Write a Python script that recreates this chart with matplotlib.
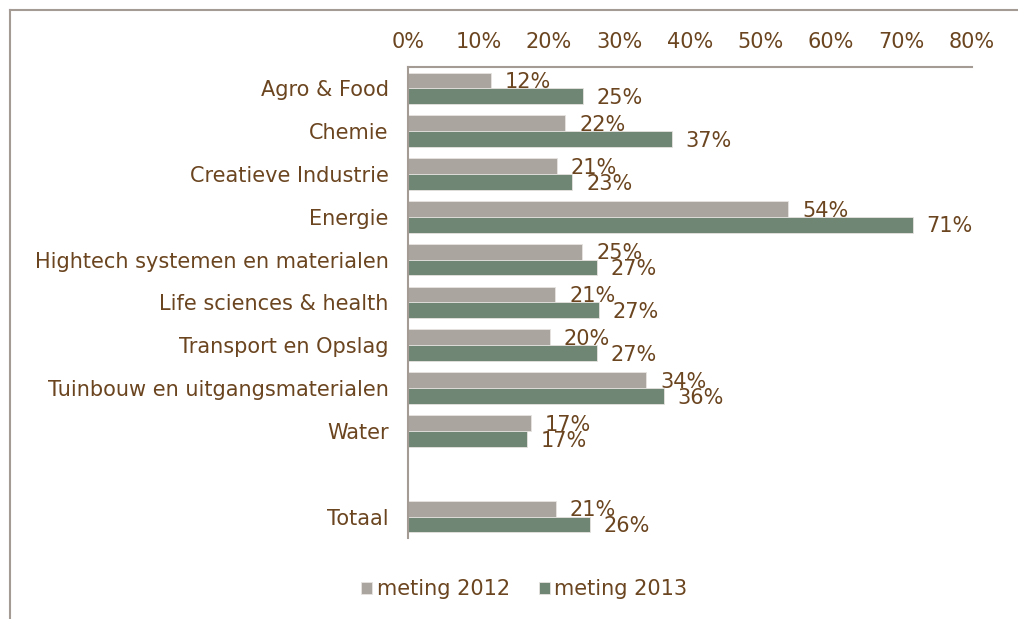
import numpy as np
import matplotlib.pyplot as plt
from matplotlib.lines import Line2D
from matplotlib.ticker import FuncFormatter

categories = ["Agro & Food", "Chemie", "Creatieve Industrie", "Energie",
              "Hightech systemen en materialen", "Life sciences & health",
              "Transport en Opslag", "Tuinbouw en uitgangsmaterialen", "Water",
              "Totaal"]
meting_2012 = [11.8, 22.3, 21.1, 53.9, 24.7, 20.9, 20.1, 33.8, 17.4, 21.0]
meting_2013 = [24.8, 37.4, 23.3, 71.6, 26.8, 27.1, 26.8, 36.3, 16.9, 25.8]
labels_2012 = ["12%", "22%", "21%", "54%", "25%", "21%", "20%", "34%", "17%", "21%"]
labels_2013 = ["25%", "37%", "23%", "71%", "27%", "27%", "27%", "36%", "17%", "26%"]

c2012 = "#ABA59F"
c2013 = "#6F8675"
txt = "#6B4520"
frame = "#A39B94"
fs = 15

# empty slot between Water and Totaal
pos = np.array([0, 1, 2, 3, 4, 5, 6, 7, 8, 10])
h = 0.37

fig = plt.figure(figsize=(10.18, 6.19), dpi=100)
ax = fig.add_axes([0.4008, 0.1309, 0.554, 0.7609])

ax.barh(pos - h / 2, meting_2012, height=h, color=c2012, edgecolor="#E6E3E0",
        linewidth=0.6, label="meting 2012")
ax.barh(pos + h / 2, meting_2013, height=h, color=c2013, edgecolor="#E6E3E0",
        linewidth=0.6, label="meting 2013")

for p, v, s in zip(pos, meting_2012, labels_2012):
    ax.annotate(s, (v, p - h / 2 + 0.04), xytext=(10, 0), textcoords="offset points",
                va="center", ha="left", fontsize=fs, color=txt)
for p, v, s in zip(pos, meting_2013, labels_2013):
    ax.annotate(s, (v, p + h / 2 + 0.04), xytext=(10, 0), textcoords="offset points",
                va="center", ha="left", fontsize=fs, color=txt)

ax.set_xlim(0, 80)
ax.set_ylim(10.5, -0.5)
ax.set_xticks(np.arange(0, 81, 10))
ax.xaxis.set_major_formatter(FuncFormatter(lambda x, _: f"{x:.0f}%"))
ax.xaxis.tick_top()
ax.set_yticks(pos)
ax.set_yticklabels(categories)
ax.tick_params(axis="both", length=0, labelsize=fs, labelcolor=txt)
ax.tick_params(axis="x", pad=11)
ax.tick_params(axis="y", pad=14)

ax.spines["right"].set_visible(False)
ax.spines["bottom"].set_visible(False)
ax.spines["top"].set_color(frame)
ax.spines["left"].set_color(frame)
ax.spines["top"].set_linewidth(1.5)
ax.spines["left"].set_linewidth(1.5)

fig.legend(loc="center", bbox_to_anchor=(0.515, 0.048), ncol=2, frameon=False,
           fontsize=fs, labelcolor=txt, handlelength=0.55, handleheight=0.55,
           handletextpad=0.2, columnspacing=1.4)

# outer chart frame, cropped at right and bottom
fig.add_artist(Line2D([9.5 / 1018, 9.5 / 1018], [0, 1 - 9.5 / 619],
                      transform=fig.transFigure, color=frame, linewidth=1.5))
fig.add_artist(Line2D([9.5 / 1018, 1], [1 - 9.5 / 619, 1 - 9.5 / 619],
                      transform=fig.transFigure, color=frame, linewidth=1.5))

fig.savefig("out.png", dpi=100)
